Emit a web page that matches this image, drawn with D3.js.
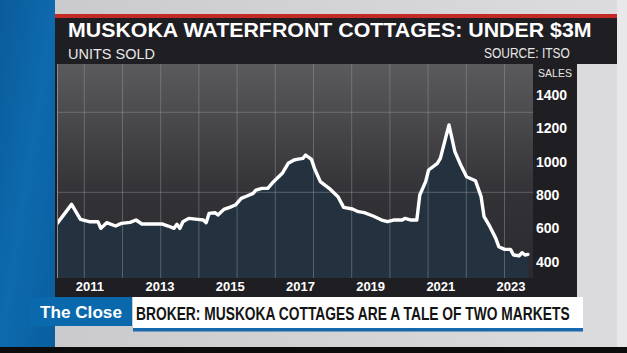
<!DOCTYPE html>
<html>
<head>
<meta charset="utf-8">
<script src="https://cdn.jsdelivr.net/npm/d3@7"></script>
<style>
  html, body { margin: 0; padding: 0; background: #d6d6d8; }
  svg { display: block; }
</style>
</head>
<body>
<div id="chart"></div>
<script>
// monthly units sold
const months = [
  "2010-02", "2010-07", "2010-10", "2011-01", "2011-04", "2011-05", "2011-07", "2011-10", "2011-12",
  "2012-03", "2012-05", "2012-07", "2013-02", "2013-04", "2013-06", "2013-07", "2013-08", "2013-09",
  "2013-11", "2014-02", "2014-04", "2014-05", "2014-06", "2014-08", "2014-09", "2014-11", "2015-01",
  "2015-03", "2015-05", "2015-07", "2015-09", "2015-10", "2015-12", "2016-02", "2016-04", "2016-07",
  "2016-09", "2016-11", "2016-12", "2017-02", "2017-03", "2017-05", "2017-06", "2017-08", "2017-11",
  "2018-02", "2018-04", "2018-07", "2018-09", "2018-11", "2019-02", "2019-05", "2019-07", "2019-09",
  "2019-12", "2020-01", "2020-03", "2020-05", "2020-06", "2020-08", "2020-09", "2020-12", "2021-01",
  "2021-04", "2021-06", "2021-08", "2021-10", "2022-01", "2022-03", "2022-04", "2022-06", "2022-08",
  "2022-09", "2022-11", "2023-01", "2023-02", "2023-04", "2023-05", "2023-06", "2023-07"
];
const sales = [
  630, 744, 654, 640, 640, 600, 634, 614, 630,
  636, 650, 626, 626, 614, 600, 624, 600, 640,
  660, 654, 650, 634, 690, 694, 680, 714, 726,
  740, 780, 794, 810, 830, 840, 840, 880, 930,
  990, 1010, 1014, 1020, 1040, 1014, 960, 880, 840,
  790, 726, 716, 700, 694, 674, 650, 640, 650,
  650, 660, 650, 650, 800, 880, 950, 990, 1020,
  1220, 1060, 980, 910, 886, 790, 670, 610, 540,
  490, 474, 474, 440, 436, 454, 440, 444
];
const yTicks = [400, 600, 800, 1000, 1200, 1400];
const xTickYears = [2011, 2013, 2015, 2017, 2019, 2021, 2023];

const title = "MUSKOKA WATERFRONT COTTAGES: UNDER $3M";
const subtitle = "UNITS SOLD";
const source = "SOURCE: ITSO";
const unitLabel = "SALES";
const showName = "The Close";
const headline = "BROKER: MUSKOKA COTTAGES ARE A TALE OF TWO MARKETS";

const W = 627, H = 353;
const plot = { left: 57, right: 533, top: 64, bottom: 278 };
const FONT = "Liberation Sans, Arial, sans-serif";

const parseMonth = d3.timeParse("%Y-%m");
const data = months.map((m, i) => ({ date: parseMonth(m), value: sales[i] }));

const svg = d3.select("#chart").append("svg")
  .attr("width", W)
  .attr("height", H);

const defs = svg.append("defs");

const plotGrad = defs.append("linearGradient")
  .attr("id", "plotGrad").attr("x1", 0).attr("y1", 0).attr("x2", 0).attr("y2", 1);
plotGrad.append("stop").attr("offset", "0%").attr("stop-color", "#5b5b5e");
plotGrad.append("stop").attr("offset", "60%").attr("stop-color", "#333236");
plotGrad.append("stop").attr("offset", "100%").attr("stop-color", "#2b2a2e");

const blueGrad = defs.append("linearGradient")
  .attr("id", "blueGrad").attr("x1", 0).attr("y1", 0).attr("x2", 1).attr("y2", 1);
blueGrad.append("stop").attr("offset", "0%").attr("stop-color", "#0b5b9a");
blueGrad.append("stop").attr("offset", "50%").attr("stop-color", "#0d6aad");
blueGrad.append("stop").attr("offset", "100%").attr("stop-color", "#0a5e9e");

const greyGrad = defs.append("linearGradient")
  .attr("id", "greyGrad").attr("x1", 0).attr("y1", 0).attr("x2", 1).attr("y2", 0);
greyGrad.append("stop").attr("offset", "0%").attr("stop-color", "#c9c9cb");
greyGrad.append("stop").attr("offset", "100%").attr("stop-color", "#dcdcde");

defs.append("clipPath").attr("id", "plotClip")
  .append("rect")
  .attr("x", plot.left).attr("y", plot.top)
  .attr("width", plot.right - plot.left).attr("height", plot.bottom - plot.top);

// squeeze a text horizontally so it spans the given width
function fitText(parent, str, x, yPos, width, size, opts = {}) {
  const t = parent.append("text")
    .attr("fill", opts.fill || "#ffffff")
    .attr("font-family", FONT)
    .attr("font-weight", opts.weight || "normal")
    .attr("font-size", size)
    .text(str);
  const natural = t.node().getComputedTextLength();
  const k = width / natural;
  const x0 = opts.anchor === "end" ? x - width : x;
  t.attr("transform", `translate(${x0},${yPos}) scale(${k},1)`);
  return t;
}

// studio background
svg.append("rect").attr("width", W).attr("height", H).attr("fill", "url(#greyGrad)");
svg.append("rect").attr("x", 0).attr("y", 0).attr("width", 55).attr("height", 347)
  .attr("fill", "url(#blueGrad)");
svg.append("rect").attr("x", 617).attr("y", 0).attr("width", 10).attr("height", 347)
  .attr("fill", "#e8e8ea");
svg.append("rect").attr("x", 0).attr("y", 347).attr("width", W).attr("height", H - 347)
  .attr("fill", "#0c0c0c");

// header band
svg.append("rect").attr("x", 55).attr("y", 14).attr("width", 562).attr("height", 5)
  .attr("fill", "#c42a25");
svg.append("rect").attr("x", 55).attr("y", 18).attr("width", 562).attr("height", 46)
  .attr("fill", "#1f1e23");

// chart panel
svg.append("rect").attr("x", 55).attr("y", 64).attr("width", 522).attr("height", 233)
  .attr("fill", "#1f1e23");
svg.append("rect")
  .attr("x", plot.left).attr("y", plot.top)
  .attr("width", plot.right - plot.left).attr("height", plot.bottom - plot.top)
  .attr("fill", "url(#plotGrad)");

// scales
const x = d3.scaleTime()
  .domain([new Date(2011, 0, 1), new Date(2023, 0, 1)])
  .range([89.3, 510.5]);
const y = d3.scaleLinear()
  .domain([400, 1400])
  .range([261.7, 95]);

const g = svg.append("g").attr("clip-path", "url(#plotClip)");

// area under the line
g.append("path")
  .datum(data)
  .attr("fill", "#243240")
  .attr("d", d3.area()
    .x(d => x(d.date))
    .y0(plot.bottom)
    .y1(d => y(d.value)));

// background tile grid
const gridX = d3.range(84.3, plot.right, 38.2);
const gridY = [112.3, 192.3];
g.selectAll(".vgrid").data(gridX).join("line")
  .attr("class", "vgrid")
  .attr("x1", d => d).attr("x2", d => d)
  .attr("y1", plot.top).attr("y2", plot.bottom)
  .attr("stroke", "#9a9aa0").attr("stroke-opacity", 0.45).attr("stroke-width", 1);
g.selectAll(".hgrid").data(gridY).join("line")
  .attr("class", "hgrid")
  .attr("x1", plot.left).attr("x2", plot.right)
  .attr("y1", d => d).attr("y2", d => d)
  .attr("stroke", "#9a9aa0").attr("stroke-opacity", 0.45).attr("stroke-width", 1);
svg.append("line")
  .attr("x1", plot.left + 0.5).attr("x2", plot.left + 0.5)
  .attr("y1", plot.top).attr("y2", plot.bottom)
  .attr("stroke", "#8a8a90").attr("stroke-width", 1);

// the line
g.append("path")
  .datum(data)
  .attr("fill", "none")
  .attr("stroke", "#ffffff")
  .attr("stroke-width", 3.4)
  .attr("stroke-linejoin", "round")
  .attr("stroke-linecap", "round")
  .attr("d", d3.line()
    .x(d => x(d.date))
    .y(d => y(d.value)));

// right axis
const yAxis = d3.axisRight(y)
  .tickValues(yTicks)
  .tickFormat(d3.format("d"))
  .tickSize(0)
  .tickPadding(3);
const yAxisG = svg.append("g")
  .attr("transform", `translate(${plot.right},0)`)
  .call(yAxis);
yAxisG.select(".domain").remove();
yAxisG.selectAll("text")
  .attr("fill", "#ffffff")
  .attr("font-family", FONT)
  .attr("font-weight", "bold")
  .attr("font-size", 14);

fitText(svg, unitLabel, 538, 76.5, 34, 10.5, { fill: "#e6e6e6" });

// bottom axis
const xAxis = d3.axisBottom(x)
  .tickValues(xTickYears.map(yr => new Date(yr, 0, 1)))
  .tickFormat(d3.timeFormat("%Y"))
  .tickSize(0)
  .tickPadding(4);
const xAxisG = svg.append("g")
  .attr("transform", `translate(0,${plot.bottom})`)
  .call(xAxis);
xAxisG.select(".domain").remove();
xAxisG.selectAll("text")
  .attr("fill", "#ffffff")
  .attr("font-family", FONT)
  .attr("font-weight", "bold")
  .attr("font-size", 13);

// header text
fitText(svg, title, 68, 37, 524, 20, { weight: "bold" });
fitText(svg, subtitle, 68, 59, 87, 15, { fill: "#e8e8e8" });
fitText(svg, source, 570, 57.5, 86, 14, { fill: "#e8e8e8", anchor: "end" });

// lower third
svg.append("rect").attr("x", 29).attr("y", 297).attr("width", 103).attr("height", 29)
  .attr("fill", "#0a69ad");
fitText(svg, showName, 40, 317.5, 82, 17, { weight: "bold" });
svg.append("rect").attr("x", 133).attr("y", 297).attr("width", 450).attr("height", 31)
  .attr("fill", "#ffffff");
svg.append("rect").attr("x", 133).attr("y", 328).attr("width", 450).attr("height", 3.5)
  .attr("fill", "#1769ad");
fitText(svg, headline, 136, 319.5, 434, 19, { weight: "bold", fill: "#141414" });
</script>
</body>
</html>
